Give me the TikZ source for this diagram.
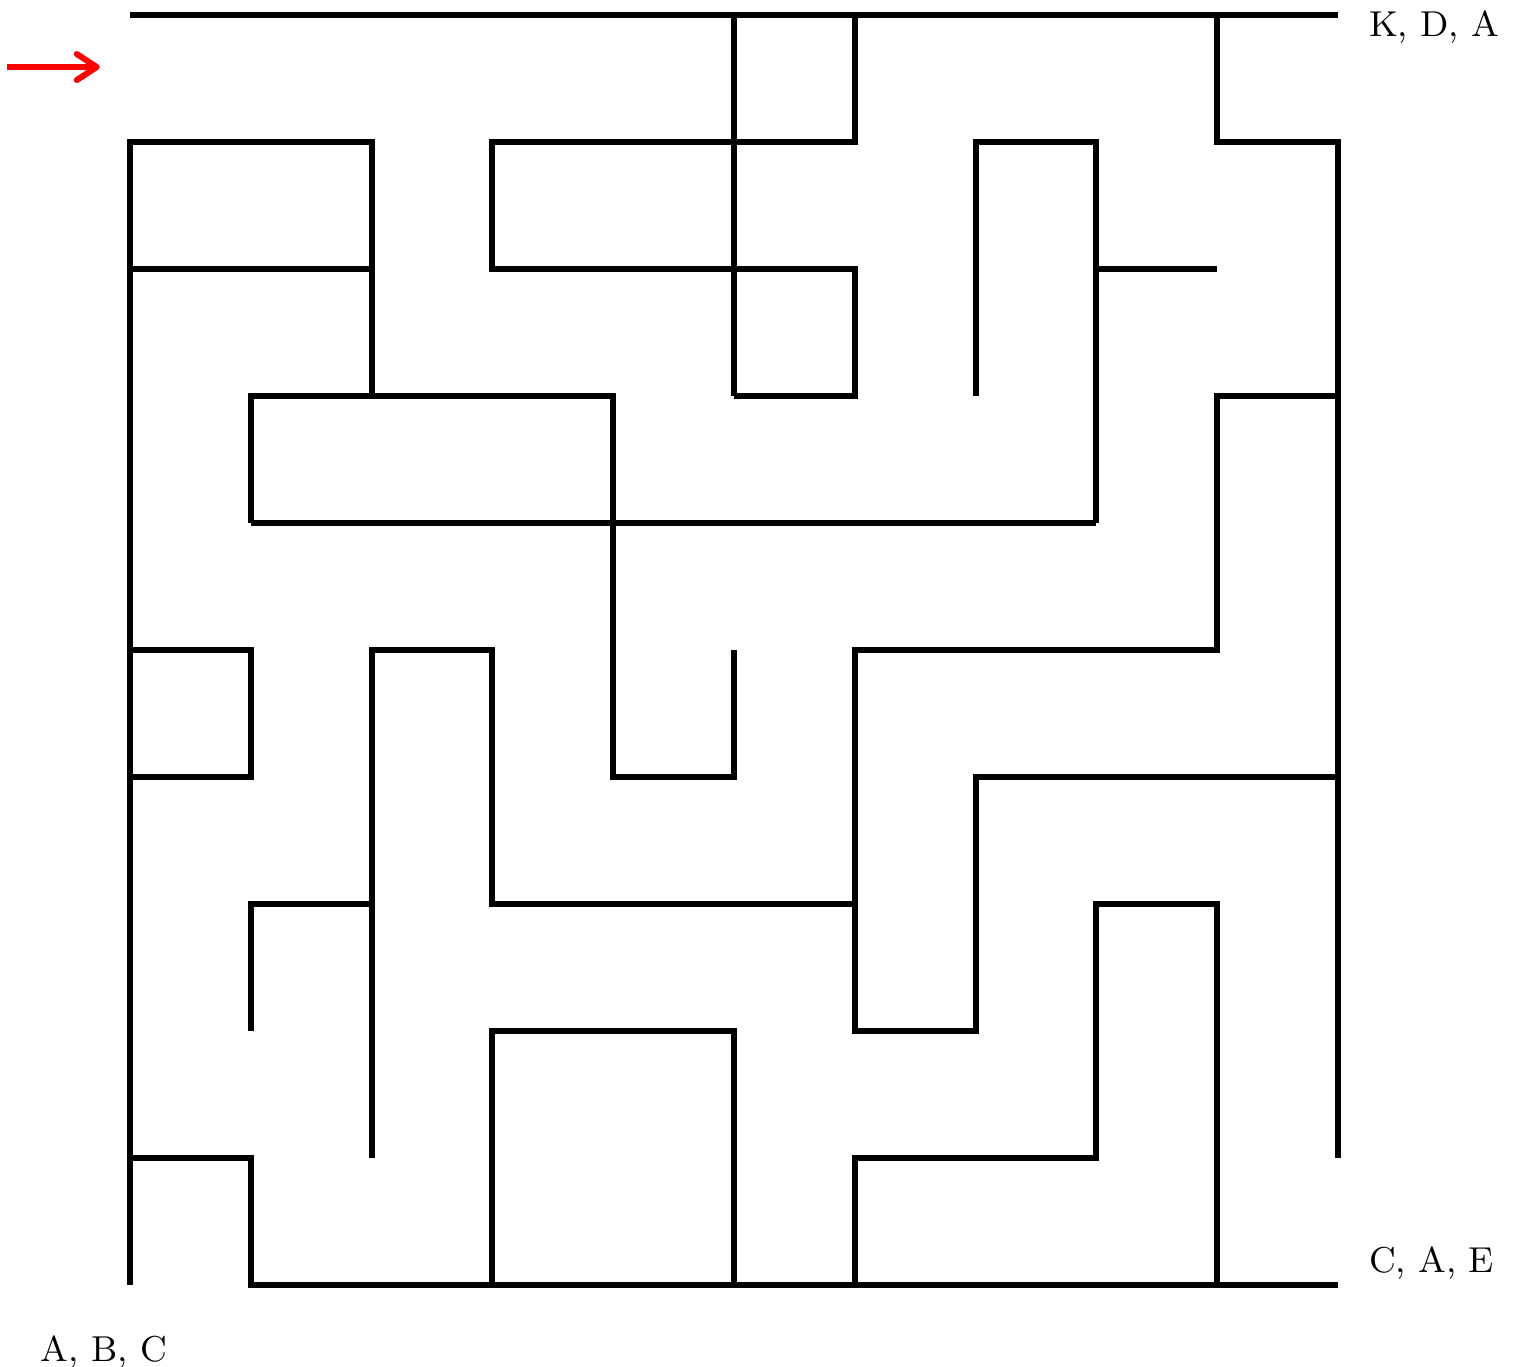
\documentclass[tikz,border=0pt]{standalone}
\usepackage{tikz}
\usetikzlibrary{arrows.meta}
\tikzset{
  mazewall/.style  = {line width=1.5pt},
  entryarrow/.style = {red, line width=1.5pt,
                       -{Straight Barb[length=5pt,width=6.5pt,round]}},
  mazelbl/.style   = {inner sep=0pt, anchor=base west, font=\small}
}

\begin{document}
\begin{tikzpicture}[x=30.2pt, y=31.75pt]
  \useasboundingbox (-32.5pt,-20.5pt) rectangle (345.75pt,321.25pt);

  % outer walls
  \draw[mazewall] (0,10) -- (10,10);
  \draw[mazewall] (9,10) -- (9,9) -- (10,9) -- (10,1);
  \draw[mazewall] (2,7) -- (2,9) -- (0,9) -- (0,0);
  \draw[mazewall] (0,1) -- (1,1) -- (1,0) -- (10,0);

  % inner walls
  \draw[mazewall] (5,10) -- (5,7);
  \draw[mazewall] (6,10) -- (6,9) -- (3,9) -- (3,8) -- (6,8) -- (6,7) -- (5,7);
  \draw[mazewall] (0,8) -- (2,8);
  \draw[mazewall] (7,7) -- (7,9) -- (8,9) -- (8,6);
  \draw[mazewall] (8,8) -- (9,8);
  \draw[mazewall] (1,6) -- (8,6);
  \draw[mazewall] (1,6) -- (1,7) -- (4,7) -- (4,4) -- (5,4) -- (5,5);
  \draw[mazewall] (10,7) -- (9,7) -- (9,5) -- (6,5) -- (6,2) -- (7,2) -- (7,4) -- (10,4);
  \draw[mazewall] (0,5) -- (1,5) -- (1,4) -- (0,4);
  \draw[mazewall] (2,1) -- (2,5) -- (3,5) -- (3,3) -- (6,3);
  \draw[mazewall] (1,2) -- (1,3) -- (2,3);
  \draw[mazewall] (3,0) -- (3,2) -- (5,2) -- (5,0);
  \draw[mazewall] (6,0) -- (6,1) -- (8,1) -- (8,3) -- (9,3) -- (9,0);

  % entry arrow
  \coordinate (arrtail) at (-1.02,9.59);
  \coordinate (arrhead) at (-0.25,9.59);
  \draw[entryarrow] (arrtail) -- (arrhead);

  % labels
  \node[mazelbl] (lbltop)   at (10.25,9.83)   {K, D, A};
  \node[mazelbl] (lblright) at (10.25,0.10)   {C, A, E};
  \node[mazelbl] (lblleft)  at (-0.745,-0.606) {A, B, C};
\end{tikzpicture}
\end{document}
